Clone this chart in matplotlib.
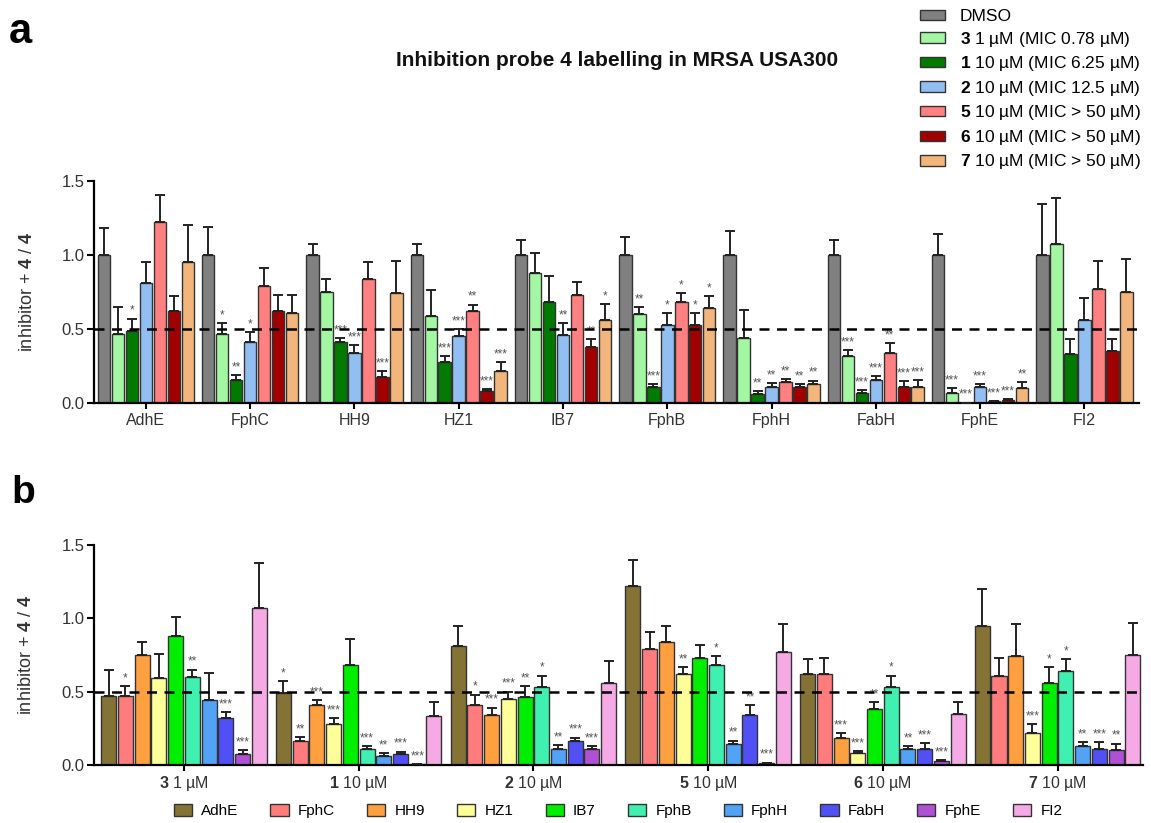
import numpy as np
import matplotlib
matplotlib.use('Agg')
import matplotlib.pyplot as plt
from matplotlib.patches import Patch

plt.rcParams['font.family'] = ['Liberation Sans', 'DejaVu Sans']
plt.rcParams['mathtext.fontset'] = 'custom'
plt.rcParams['mathtext.rm'] = 'Liberation Sans'
plt.rcParams['mathtext.bf'] = 'Liberation Sans:bold'

# ---- data ----
proteins = ['AdhE', 'FphC', 'HH9', 'HZ1', 'IB7', 'FphB', 'FphH', 'FabH', 'FphE', 'FI2']
compounds = ['3', '1', '2', '5', '6', '7']
doses = ['1 µM', '10 µM', '10 µM', '10 µM', '10 µM', '10 µM']
mics = ['MIC 0.78 µM', 'MIC 6.25 µM', 'MIC 12.5 µM', 'MIC > 50 µM', 'MIC > 50 µM', 'MIC > 50 µM']

dmso_mean = [1.00, 1.00, 1.00, 1.00, 1.00, 1.00, 1.00, 1.00, 1.00, 1.00]
dmso_err = [0.18, 0.19, 0.07, 0.07, 0.10, 0.12, 0.16, 0.10, 0.14, 0.34]

c3_mean = [0.47, 0.47, 0.75, 0.59, 0.88, 0.60, 0.44, 0.32, 0.07, 1.07]
c3_err = [0.18, 0.07, 0.09, 0.17, 0.13, 0.05, 0.19, 0.04, 0.03, 0.31]
c3_sig = ['', '*', '', '', '', '**', '', '***', '***', '']

c1_mean = [0.49, 0.16, 0.41, 0.28, 0.68, 0.11, 0.06, 0.07, 0.005, 0.33]
c1_err = [0.08, 0.03, 0.03, 0.04, 0.18, 0.02, 0.02, 0.02, 0.0, 0.10]
c1_sig = ['*', '**', '***', '***', '', '***', '**', '***', '***', '']

c2_mean = [0.81, 0.41, 0.34, 0.45, 0.46, 0.53, 0.11, 0.16, 0.11, 0.56]
c2_err = [0.14, 0.07, 0.05, 0.05, 0.08, 0.08, 0.025, 0.025, 0.02, 0.15]
c2_sig = ['', '*', '***', '***', '**', '*', '**', '***', '***', '']

c5_mean = [1.22, 0.79, 0.84, 0.62, 0.73, 0.68, 0.14, 0.34, 0.014, 0.77]
c5_err = [0.18, 0.12, 0.11, 0.045, 0.09, 0.06, 0.025, 0.065, 0.0, 0.19]
c5_sig = ['', '', '', '**', '', '*', '**', '**', '***', '']

c6_mean = [0.62, 0.62, 0.18, 0.08, 0.38, 0.53, 0.11, 0.11, 0.025, 0.35]
c6_err = [0.10, 0.11, 0.035, 0.013, 0.05, 0.08, 0.02, 0.04, 0.004, 0.08]
c6_sig = ['', '', '***', '***', '**', '*', '**', '***', '***', '']

c7_mean = [0.95, 0.61, 0.74, 0.22, 0.56, 0.64, 0.13, 0.11, 0.10, 0.75]
c7_err = [0.25, 0.12, 0.22, 0.056, 0.11, 0.08, 0.023, 0.046, 0.045, 0.22]
c7_sig = ['', '', '', '***', '*', '*', '**', '***', '**', '']

treat_colors = ['#808080', '#a3f7a3', '#007a00', '#92bff2', '#ff8080', '#a00000', '#f2b67c']
prot_colors = ['#857235', '#ff7c7c', '#ffa040', '#ffff99', '#00ee00',
               '#40f0b0', '#52a2f5', '#5050f5', '#b050d5', '#f5aae6']

means = np.array([dmso_mean, c3_mean, c1_mean, c2_mean, c5_mean, c6_mean, c7_mean])
errs = np.array([dmso_err, c3_err, c1_err, c2_err, c5_err, c6_err, c7_err])
sigs = [[''] * 10, c3_sig, c1_sig, c2_sig, c5_sig, c6_sig, c7_sig]

fig = plt.figure(figsize=(11.51, 8.23), dpi=100)
ax_a = fig.add_axes([0.0817, 0.510, 0.908, 0.2705])
ax_b = fig.add_axes([0.0817, 0.0708, 0.911, 0.2666])


def style(ax):
    for s in ['top', 'right']:
        ax.spines[s].set_visible(False)
    for s in ['left', 'bottom']:
        ax.spines[s].set_linewidth(1.6)
    ax.set_ylim(0, 1.5)
    ax.set_yticks([0, 0.5, 1.0, 1.5])
    ax.set_yticklabels(['0.0', '0.5', '1.0', '1.5'])
    ax.tick_params(axis='y', length=5, width=1.5, labelsize=12, labelcolor='#333', pad=2)
    ax.tick_params(axis='x', length=4, width=1.5, labelsize=11.5, labelcolor='#333', pad=3)
    ax.axhline(0.5, color='black', ls=(0, (4, 3)), lw=1.8, zorder=5)
    ax.set_ylabel(r'inhibitor + $\mathbf{4}$ / $\mathbf{4}$', fontsize=13, color='#333')
    ax.yaxis.set_label_coords(-0.056, 0.5)


def bars(ax, vals, err, sig, colors, pitch, width):
    n = vals.shape[0]
    x = np.arange(vals.shape[1])
    for i in range(n):
        xi = x + (i - (n - 1) / 2) * pitch
        ax.bar(xi, vals[i], width, color=colors[i], edgecolor='#333', linewidth=1, zorder=2)
        ax.errorbar(xi, vals[i], yerr=[np.zeros_like(err[i]), err[i]], fmt='none',
                    ecolor='#222', elinewidth=1.4, capsize=3.5, capthick=1.4, zorder=3)
        for j in range(len(xi)):
            if sig[i][j]:
                ax.text(xi[j], vals[i][j] + err[i][j] + 0.012, sig[i][j], ha='center',
                        va='bottom', fontsize=8.5, color='#555', zorder=4)


# panel a: proteins x treatments
bars(ax_a, means, errs, sigs, treat_colors, 0.134, 0.12)
style(ax_a)
ax_a.set_xlim(-0.497, 9.525)
ax_a.set_xticks(np.arange(10))
ax_a.set_xticklabels(proteins)

# panel b: compounds x proteins (DMSO left out)
sigs_b = [[sigs[i + 1][j] for i in range(6)] for j in range(10)]
bars(ax_b, means[1:].T, errs[1:].T, sigs_b, prot_colors, 0.0957, 0.086)
style(ax_b)
ax_b.set_xlim(-0.515, 5.487)
ax_b.set_xticks(np.arange(6))
ax_b.set_xticklabels([r'$\mathbf{%s}$ %s' % (c, d) for c, d in zip(compounds, doses)])

fig.text(617 / 1151, 1 - 61 / 823, 'Inhibition probe 4 labelling in MRSA USA300',
         ha='center', va='center', fontsize=15, fontweight='bold', color='#111')
fig.text(9 / 1151, 1 - 43 / 823, 'a', fontsize=30, fontweight='bold', va='baseline')
fig.text(11 / 1151, 1 - 503 / 823, 'b', fontsize=28, fontweight='bold', va='baseline')

labels_a = ['DMSO'] + [r'$\mathbf{%s}$ %s (%s)' % (c, d, m) for c, d, m in zip(compounds, doses, mics)]
handles_a = [Patch(facecolor=c, edgecolor='#333', linewidth=1) for c in treat_colors]
fig.legend(handles_a, labels_a, loc='upper left', bbox_to_anchor=(908 / 1151, 1 + 3 / 823),
           frameon=False, fontsize=12.5, handlelength=1.45, handleheight=0.55,
           labelspacing=0.32, handletextpad=0.85, borderpad=0.2)

handles_b = [Patch(facecolor=c, edgecolor='#333', linewidth=1) for c in prot_colors]
fig.legend(handles_b, proteins, loc='center', bbox_to_anchor=(618 / 1151, 1 - 811 / 823),
           ncol=10, frameon=False, handlelength=1.2, handleheight=0.8,
           handletextpad=0.6, columnspacing=2.1, borderpad=0.1,
           prop={'family': ['Liberation Sans Narrow', 'Liberation Sans'], 'size': 11})

fig.savefig('out.png', dpi=100)
